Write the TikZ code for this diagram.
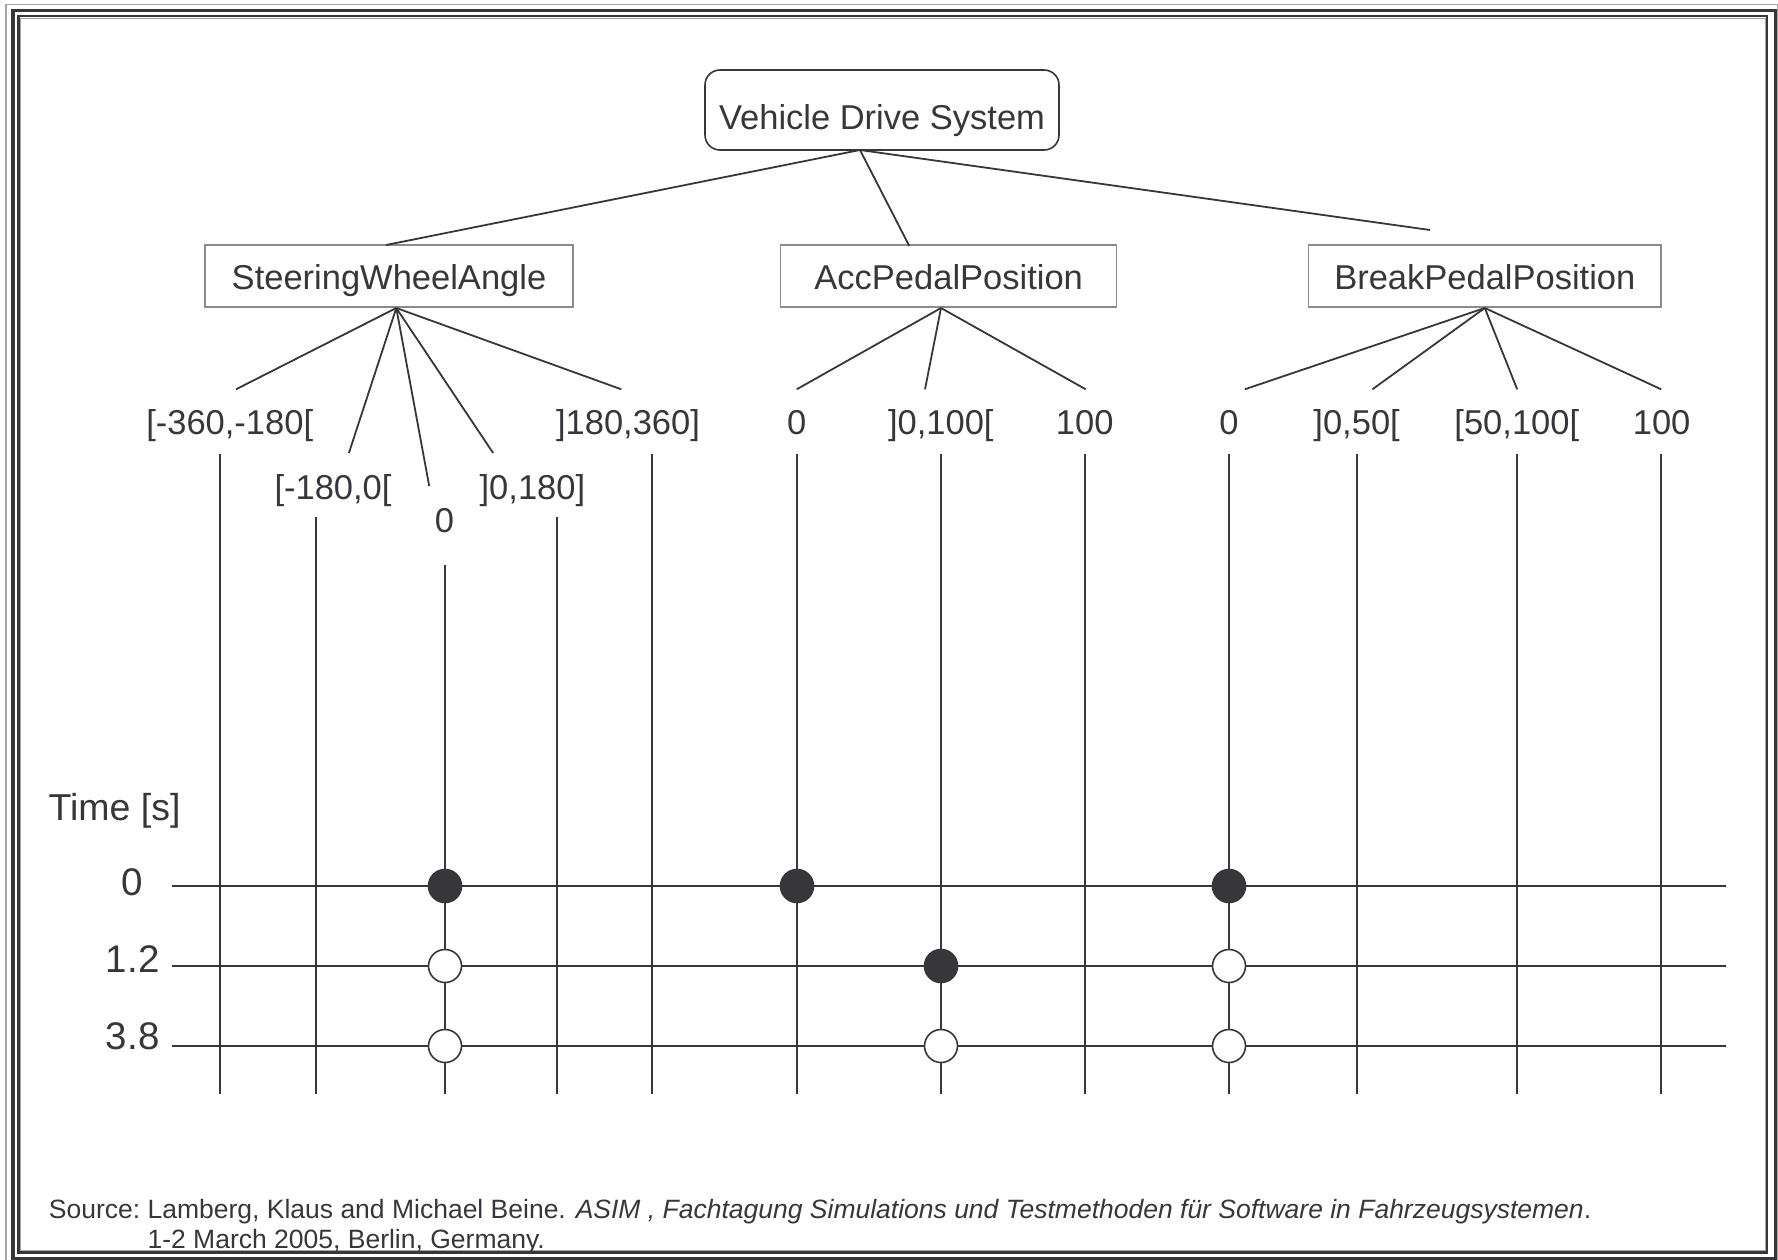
\documentclass[tikz,border=0pt]{standalone}
\usepackage{fontspec}
\setmainfont{Liberation Sans}
\definecolor{ink}{HTML}{37363B}
\definecolor{boxline}{HTML}{8C8C8C}
\definecolor{fringe}{HTML}{A6A6A6}
\begin{document}
\begin{tikzpicture}[x=1pt,y=-1pt,
  every node/.style={text=ink, inner sep=0pt},
  wire/.style={draw=ink, line width=2pt},
  rootbox/.style={draw=ink, line width=1.6pt, rounded corners=15pt,
    minimum width=354pt, minimum height=80pt,
    font=\fontsize{34.5}{40}\selectfont, text height=48pt, text depth=8pt},
  signalbox/.style={draw=boxline, line width=1.5pt, minimum height=62pt,
    font=\fontsize{34.5}{40}\selectfont, text height=35.4pt, text depth=8pt},
  valuelabel/.style={anchor=base, font=\fontsize{34.5}{40}\selectfont},
  timelabel/.style={anchor=base, font=\fontsize{38.5}{44}\selectfont},
  srctext/.style={anchor=base west, font=\fontsize{26.5}{30}\selectfont},
  hit/.style={circle, draw=ink, line width=1.6pt, fill=ink, minimum size=33pt},
  miss/.style={hit, fill=white},
]
\useasboundingbox (0,0) rectangle (1778,1260);

% triple frame
\draw[fringe, line width=1.2pt] (6,4.3) rectangle (1777.8,1262);
\draw[ink, line width=3.6pt] (12.7,10.7) rectangle (1775.3,1258.4);
\draw[ink, line width=2.2pt] (18.4,16.3) rectangle (1767.2,1252.5);
\draw[fringe, line width=1pt] (20.4,18.5) rectangle (1765,1250);

% tree boxes
\node[rootbox] (vds) at (882,110) {Vehicle Drive System};
\node[signalbox, minimum width=368pt] (swa) at (389,276) {SteeringWheelAngle};
\node[signalbox, minimum width=336pt] (acc) at (948.7,276) {AccPedalPosition};
\node[signalbox, minimum width=352.3pt] (brk) at (1484.8,276) {BreakPedalPosition};

% value labels
\node[valuelabel] (s1) at (229.7,434) {[-360,-180[};
\node[valuelabel] (s2) at (333,499) {[-180,0[};
\node[valuelabel] (s3) at (444.4,532) {0};
\node[valuelabel] (s4) at (532.4,499) {]0,180]};
\node[valuelabel] (s5) at (628,434) {]180,360]};
\node[valuelabel] (a1) at (796.7,434) {0};
\node[valuelabel] (a2) at (940.8,434) {]0,100[};
\node[valuelabel] (a3) at (1084.7,434) {100};
\node[valuelabel] (b1) at (1228.9,434) {0};
\node[valuelabel] (b2) at (1356.6,434) {]0,50[};
\node[valuelabel] (b3) at (1516.8,434) {[50,100[};
\node[valuelabel] (b4) at (1661.6,434) {100};

% connector anchor points
\coordinate (vdsfoot) at (860,150);
\coordinate (swatop) at (386,245);
\coordinate (acctop) at (909.3,246);
\coordinate (brktop) at (1430,230);
\coordinate (swafoot) at (396.3,308);
\coordinate (accfoot) at (941,308);
\coordinate (brkfoot) at (1484.8,308);
\coordinate (s1e) at (236,389.3);
\coordinate (s2e) at (348.9,453);
\coordinate (s3e) at (429.2,486);
\coordinate (s4e) at (493.1,453);
\coordinate (s5e) at (621.3,389.3);
\coordinate (a1e) at (796.7,389.3);
\coordinate (a2e) at (925,389.3);
\coordinate (a3e) at (1085.7,389.3);
\coordinate (b1e) at (1244.8,389.3);
\coordinate (b2e) at (1372.4,389.3);
\coordinate (b3e) at (1517.2,389.3);
\coordinate (b4e) at (1661.2,389.3);

% tree connectors
\draw[wire, line width=1.8pt] (vdsfoot) -- (swatop);
\draw[wire, line width=1.8pt] (vdsfoot) -- (acctop);
\draw[wire, line width=1.8pt] (vdsfoot) -- (brktop);
\foreach \e in {s1e,s2e,s3e,s4e,s5e} \draw[wire, line width=1.8pt] (swafoot) -- (\e);
\foreach \e in {a1e,a2e,a3e} \draw[wire, line width=1.8pt] (accfoot) -- (\e);
\foreach \e in {b1e,b2e,b3e,b4e} \draw[wire, line width=1.8pt] (brkfoot) -- (\e);

% value lifelines
\foreach \n/\x/\t in {s1/220/454, s2/316/517, s3/445/565, s4/557/517,
  s5/652/454, a1/797/454, a2/941/454, a3/1085/454,
  b1/1229/454, b2/1357/454, b3/1517/454, b4/1661/454} {
  \coordinate (\n top) at (\x,\t);
  \coordinate (\n bot) at (\x,1094);
  \draw[wire] (\n top) -- (\n bot);
}

% time axis
\node[anchor=base west, font=\fontsize{37.5}{44}\selectfont] (tlabel) at (48.4,820) {Time [s]};
\node[timelabel] (t0) at (132.7,895.5) {0};
\node[timelabel] (t1) at (132.7,972.7) {1.2};
\node[timelabel] (t2) at (132.7,1049.5) {3.8};
\foreach \n/\y in {r0/886, r1/966, r2/1046} {
  \coordinate (\n a) at (172,\y);
  \coordinate (\n b) at (1726,\y);
  \draw[wire] (\n a) -- (\n b);
}

% test steps
\node[hit]  (c1) at (445,886) {};
\node[miss] (c2) at (445,966) {};
\node[miss] (c3) at (445,1046) {};
\node[hit]  (c4) at (797,886) {};
\node[hit]  (c5) at (941,966) {};
\node[miss] (c6) at (941,1046) {};
\node[hit]  (c7) at (1229,886) {};
\node[miss] (c8) at (1229,966) {};
\node[miss] (c9) at (1229,1046) {};

% citation
\node[srctext] (source) at (48.7,1218) {\begin{tabular}[t]{@{}l@{\ }l@{}}Source: & Lamberg, Klaus and Michael Beine. \textit{ASIM , Fachtagung Simulations und Testmethoden für Software in Fahrzeugsystemen}.\\ & 1-2 March 2005, Berlin, Germany.\end{tabular}};
\end{tikzpicture}
\end{document}
